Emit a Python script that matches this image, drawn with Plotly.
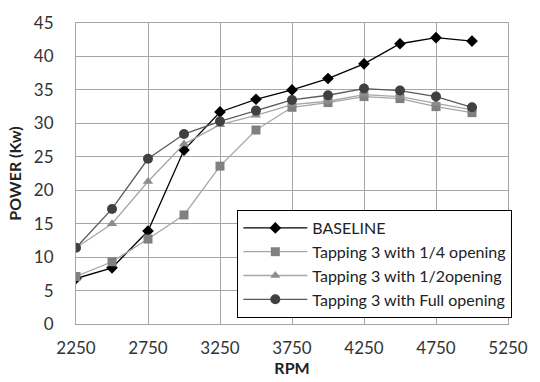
import plotly.graph_objects as go

rpm = [2250, 2500, 2750, 3000, 3250, 3500, 3750, 4000, 4250, 4500, 4750, 5000]
baseline = [6.8, 8.4, 13.9, 26.0, 31.7, 33.6, 35.0, 36.7, 38.9, 41.9, 42.8, 42.3]
quarter = [7.1, 9.3, 12.7, 16.3, 23.6, 29.0, 32.4, 33.1, 34.0, 33.7, 32.5, 31.6]
half = [11.4, 15.0, 21.3, 26.9, 29.8, 31.2, 32.8, 33.3, 34.3, 34.0, 33.0, 32.0]
full = [11.4, 17.2, 24.7, 28.4, 30.3, 31.9, 33.5, 34.2, 35.2, 34.9, 34.0, 32.4]

names = ["BASELINE", "Tapping 3 with 1/4 opening", "Tapping 3 with 1/2opening",
         "Tapping 3 with Full opening"]

font = "Lato, 'Open Sans', sans-serif"
fig = go.Figure()
fig.add_trace(go.Scatter(x=rpm, y=baseline, name=names[0], mode="lines+markers",
                         line=dict(color="#000000", width=1.3),
                         marker=dict(symbol="diamond", size=9, color="#000000")))
fig.add_trace(go.Scatter(x=rpm, y=quarter, name=names[1], mode="lines+markers",
                         line=dict(color="#a6a6a6", width=1.3),
                         marker=dict(symbol="square", size=9, color="#808080")))
fig.add_trace(go.Scatter(x=rpm, y=half, name=names[2], mode="lines+markers",
                         line=dict(color="#a6a6a6", width=1.3),
                         marker=dict(symbol="triangle-up", size=9, color="#8c8c8c")))
fig.add_trace(go.Scatter(x=rpm, y=full, name=names[3], mode="lines+markers",
                         line=dict(color="#595959", width=1.3),
                         marker=dict(symbol="circle", size=10, color="#404040")))

fig.update_layout(
    width=540, height=382,
    margin=dict(l=76, r=20, t=14, b=56),
    paper_bgcolor="white", plot_bgcolor="white",
    font=dict(family=font, size=17, color="#333333"),
    xaxis=dict(range=[2250, 5250], tick0=2250, dtick=500, showgrid=True,
               gridcolor="#a6a6a6", gridwidth=1, showline=True, linecolor="#a6a6a6",
               mirror=True, zeroline=False, ticks="", ticklabelstandoff=9,
               title=dict(text="<b>RPM</b>", standoff=0, font=dict(size=16, color="#222222"))),
    yaxis=dict(range=[0, 45], dtick=5, showgrid=True, gridcolor="#a6a6a6",
               gridwidth=1, showline=True, linecolor="#a6a6a6", mirror=True,
               zeroline=False, ticks="", ticklabelstandoff=18,
               title=dict(text="<b>POWER (Kw)</b>", standoff=8, font=dict(size=16, color="#222222"))),
    legend=dict(x=1.01, y=0.02, xanchor="right", yanchor="bottom", xref="paper", yref="paper",
                bgcolor="white", bordercolor="#000000", borderwidth=1,
                font=dict(family=font, size=16, color="#222222"),
                tracegroupgap=0, itemwidth=64),
    showlegend=True,
)
fig.write_html("out.html")
